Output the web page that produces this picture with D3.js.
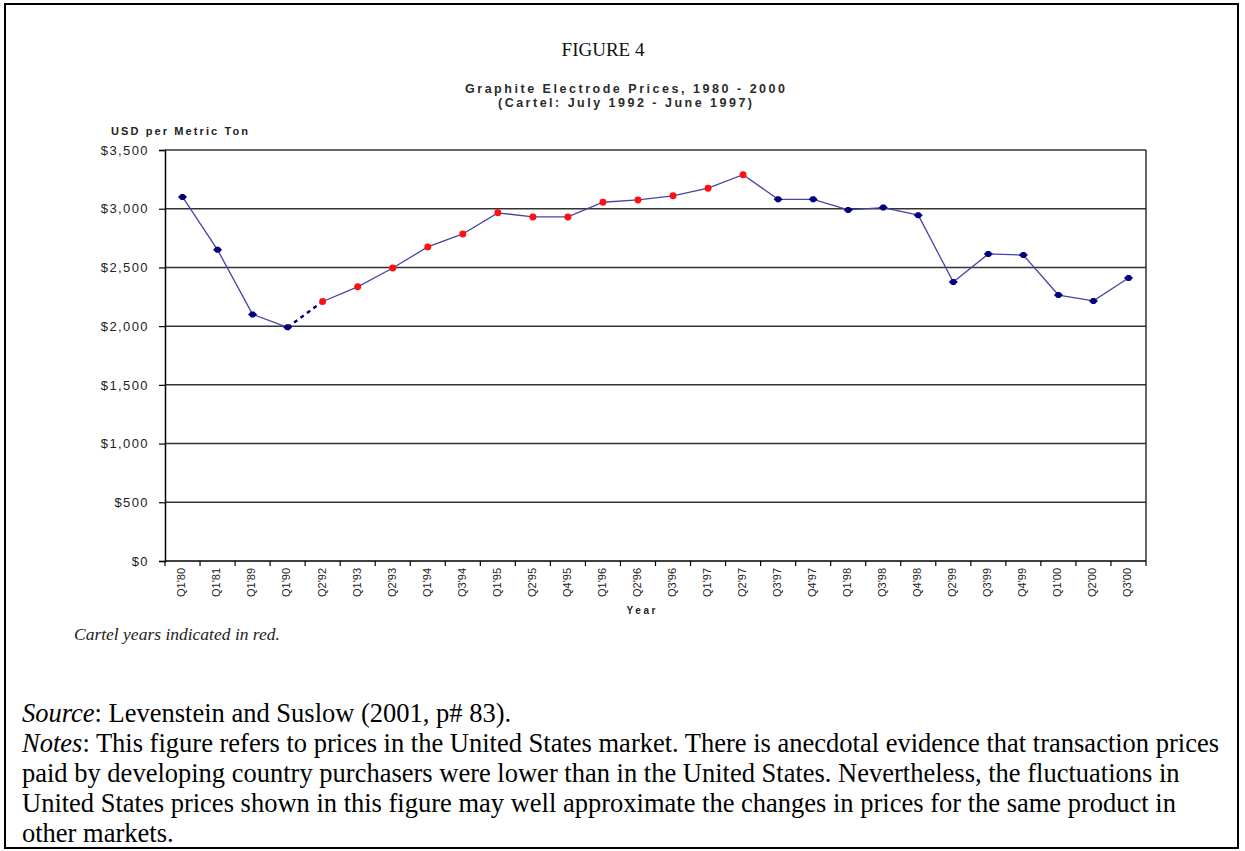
<!DOCTYPE html>
<html><head><meta charset="utf-8">
<script src="https://cdn.jsdelivr.net/npm/d3@7"></script>
<style>
html,body{margin:0;padding:0;background:#fff;}
svg{display:block;}
</style></head>
<body>
<svg id="chart" width="1245" height="851"></svg>
<script>
const categories = ["Q1'80","Q1'81","Q1'89","Q1'90","Q2'92","Q1'93","Q2'93","Q1'94","Q3'94","Q1'95","Q2'95","Q4'95","Q1'96","Q2'96","Q3'96","Q1'97","Q2'97","Q3'97","Q4'97","Q1'98","Q3'98","Q4'98","Q2'99","Q3'99","Q4'99","Q1'00","Q2'00","Q3'00"];
const prices = [3100,2650,2100,1990,2210,2335,2495,2675,2785,2965,2930,2930,3055,3075,3110,3175,3290,3080,3080,2990,3010,2945,2375,2615,2605,2265,2215,2410];
const cartel = [false,false,false,false,true,true,true,true,true,true,true,true,true,true,true,true,true,false,false,false,false,false,false,false,false,false,false,false];
const yTicks = [0,500,1000,1500,2000,2500,3000,3500];
const notesLines = [
  [["Source", true], [": Levenstein and Suslow (2001, p# 83).", false]],
  [["Notes", true], [": This figure refers to prices in the United States market. There is anecdotal evidence that transaction prices", false]],
  [["paid by developing country purchasers were lower than in the United States. Nevertheless, the fluctuations in", false]],
  [["United States prices shown in this figure may well approximate the changes in prices for the same product in", false]],
  [["other markets.", false]]
];

const svg = d3.select("#chart");
const L = 165, R = 1146, T = 150, B = 561;
const sans = "'Liberation Sans', Arial, sans-serif";
const serif = "'Liberation Serif','Times New Roman',serif";

// outer frame
svg.append("rect").attr("x",5).attr("y",4).attr("width",1233).attr("height",844)
  .attr("fill","none").attr("stroke","#000").attr("stroke-width",2);

const x = d3.scaleBand().domain(categories).range([L,R]);
const y = d3.scaleLinear().domain([0,3500]).range([B,T]);

// gridlines
svg.append("g").selectAll("line").data(yTicks.filter(d=>d>0)).join("line")
  .attr("x1",L).attr("x2",R).attr("y1",d=>y(d)).attr("y2",d=>y(d))
  .attr("stroke","#333").attr("stroke-width",1.5);
// plot frame right
svg.append("line").attr("x1",R).attr("x2",R).attr("y1",T).attr("y2",B).attr("stroke","#333").attr("stroke-width",1.5);

// y axis
const yAxis = d3.axisLeft(y).tickValues(yTicks).tickSize(6).tickPadding(10)
  .tickFormat(d=> "$" + (d===0 ? "0" : d3.format(",")(d)));
const gy = svg.append("g").attr("transform",`translate(${L},0)`).call(yAxis);
gy.select(".domain").attr("stroke","#000").attr("stroke-width",1.5);
gy.selectAll(".tick line").attr("stroke","#000").attr("stroke-width",1.2);
gy.selectAll("text").attr("font-family",sans).attr("font-size",13)
  .attr("letter-spacing","1.4px").attr("fill","#222");

// x axis
const gx = svg.append("g").attr("transform",`translate(0,${B})`);
gx.append("line").attr("x1",L).attr("x2",R).attr("y1",0).attr("y2",0).attr("stroke","#000").attr("stroke-width",1.5);
const bounds = categories.map(c=>x(c)).concat([R]);
gx.selectAll("line.tk").data(bounds).join("line").attr("class","tk")
  .attr("x1",d=>d).attr("x2",d=>d).attr("y1",0).attr("y2",5).attr("stroke","#000").attr("stroke-width",1.2);
gx.selectAll("text").data(categories).join("text")
  .attr("transform",d=>`translate(${x(d)+x.bandwidth()/2-1},7) rotate(-90)`)
  .attr("text-anchor","end").attr("dy","0.35em")
  .attr("font-family",sans).attr("font-size",11)
  .attr("fill","#222").text(d=>d);

// line
const pts = categories.map((c,i)=>({c, v:prices[i], cartel:cartel[i], i}));
const line = d3.line().x(d=>x(d.c)+x.bandwidth()/2).y(d=>y(d.v));
svg.append("path").datum(pts.slice(0,4)).attr("d",line).attr("fill","none").attr("stroke","#4545a5").attr("stroke-width",1.3);
svg.append("path").datum(pts.slice(3,5)).attr("d",line).attr("fill","none").attr("stroke","#000080")
  .attr("stroke-width",2.4).attr("stroke-dasharray","4,4");
svg.append("path").datum(pts.slice(4)).attr("d",line).attr("fill","none").attr("stroke","#4545a5").attr("stroke-width",1.3);

// markers
svg.append("g").selectAll("path").data(pts).join("path")
  .attr("transform",d=>`translate(${x(d.c)+x.bandwidth()/2},${y(d.v)})`)
  .attr("d", d=> d.cartel ? d3.symbol(d3.symbolCircle, 38)() : "M-4.5,0L-1.5,-3L1.5,-3L4.5,0L1.5,3L-1.5,3Z")
  .attr("fill",d=>d.cartel ? "#ff1010" : "#000080");

// titles
svg.append("text").attr("x",603).attr("y",56).attr("text-anchor","middle")
  .attr("font-family",serif).attr("font-size",19).attr("fill","#111").text("FIGURE 4");
svg.append("text").attr("x",625).attr("y",93).attr("text-anchor","middle")
  .attr("font-family",sans).attr("font-size",12.5).attr("font-weight","bold")
  .attr("fill","#2a2a2a").attr("textLength",320).attr("lengthAdjust","spacing").text("Graphite Electrode Prices, 1980 - 2000");
svg.append("text").attr("x",625).attr("y",107).attr("text-anchor","middle")
  .attr("font-family",sans).attr("font-size",12.5).attr("font-weight","bold")
  .attr("fill","#2a2a2a").attr("textLength",254).attr("lengthAdjust","spacing").text("(Cartel: July 1992 - June 1997)");
svg.append("text").attr("x",111).attr("y",135)
  .attr("font-family",sans).attr("font-size",11).attr("font-weight","bold")
  .attr("fill","#222").attr("textLength",137).attr("lengthAdjust","spacing").text("USD per Metric Ton");
svg.append("text").attr("x",641).attr("y",614).attr("text-anchor","middle")
  .attr("font-family",sans).attr("font-size",10).attr("font-weight","bold")
  .attr("fill","#222").attr("textLength",29).attr("lengthAdjust","spacing").text("Year");
svg.append("text").attr("x",74).attr("y",640)
  .attr("font-family",serif).attr("font-size",17.5).attr("font-style","italic")
  .attr("fill","#222").text("Cartel years indicated in red.");

// notes
const nt = svg.append("g").attr("font-family",serif).attr("font-size",26.5).attr("fill","#000");
notesLines.forEach((ln,i)=>{
  const t = nt.append("text").attr("x",22).attr("y",722 + i*30);
  ln.forEach(([s,it])=> t.append("tspan").attr("font-style", it ? "italic" : "normal").text(s));
});
</script>
</body></html>
